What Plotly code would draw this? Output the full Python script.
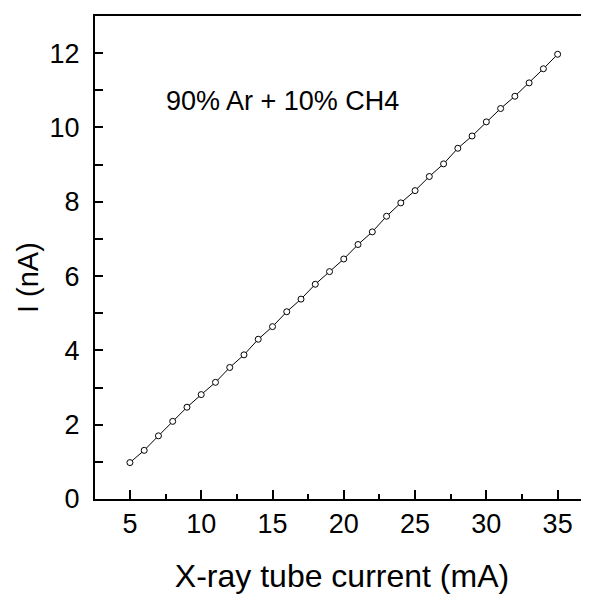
import plotly.graph_objects as go

current_mA = list(range(5, 36))
current_nA = [0.98, 1.31, 1.70, 2.09, 2.47, 2.81, 3.14, 3.54, 3.88, 4.30,
              4.64, 5.04, 5.38, 5.78, 6.12, 6.46, 6.85, 7.19, 7.61, 7.97,
              8.30, 8.68, 9.02, 9.44, 9.77, 10.15, 10.51, 10.84, 11.20, 11.58,
              11.97]
y_ticks = [0, 2, 4, 6, 8, 10, 12]
x_ticks = [5, 10, 15, 20, 25, 30, 35]
label = "90% Ar + 10% CH4"
x_title = "X-ray tube current (mA)"
y_title = "I (nA)"

FONT = "Liberation Sans"
FS = 27

fig = go.Figure()
fig.add_trace(go.Scatter(
    x=current_mA, y=current_nA, mode="lines+markers",
    line=dict(color="black", width=1),
    marker=dict(symbol="circle", size=6, color="white",
                line=dict(color="black", width=1)),
    showlegend=False,
))

fig.add_annotation(x=0.379, y=0.825, xref="paper", yref="paper",
                   xanchor="center", yanchor="middle",
                   text=label, showarrow=False,
                   font=dict(family=FONT, size=FS, color="black"))
fig.add_annotation(x=-0.137, y=0.458, xref="paper", yref="paper",
                   xanchor="center", yanchor="middle",
                   text=y_title, showarrow=False, textangle=-90,
                   font=dict(family=FONT, size=29, color="black"))

fig.update_layout(
    width=589, height=594,
    margin=dict(l=87, r=8, t=6, b=103),
    plot_bgcolor="white", paper_bgcolor="white",
    font=dict(family=FONT, size=FS, color="black"),
)
fig.update_xaxes(
    range=[2.55, 37.2], tickvals=x_ticks, ticks="inside", ticklen=9,
    tickwidth=1.5, tickcolor="black", showline=True, linewidth=2,
    linecolor="black", mirror=True, showgrid=False, zeroline=False,
    minor=dict(tickvals=[7.5, 12.5, 17.5, 22.5, 27.5, 32.5], ticks="inside",
               ticklen=5, tickwidth=1.5, tickcolor="black"),
    title=dict(text=x_title, standoff=26),
    tickfont=dict(size=FS),
)
fig.update_yaxes(
    range=[0, 13], tickvals=y_ticks, ticks="inside", ticklen=8,
    tickwidth=1.5, tickcolor="black", showline=True, linewidth=2,
    linecolor="black", mirror=False, showgrid=False, zeroline=False,
    minor=dict(tickvals=[1, 3, 5, 7, 9, 11], ticks="inside",
               ticklen=8, tickwidth=1.5, tickcolor="black"),
    ticklabelstandoff=8,
    tickfont=dict(size=FS),
)

fig.write_html("out.html")
